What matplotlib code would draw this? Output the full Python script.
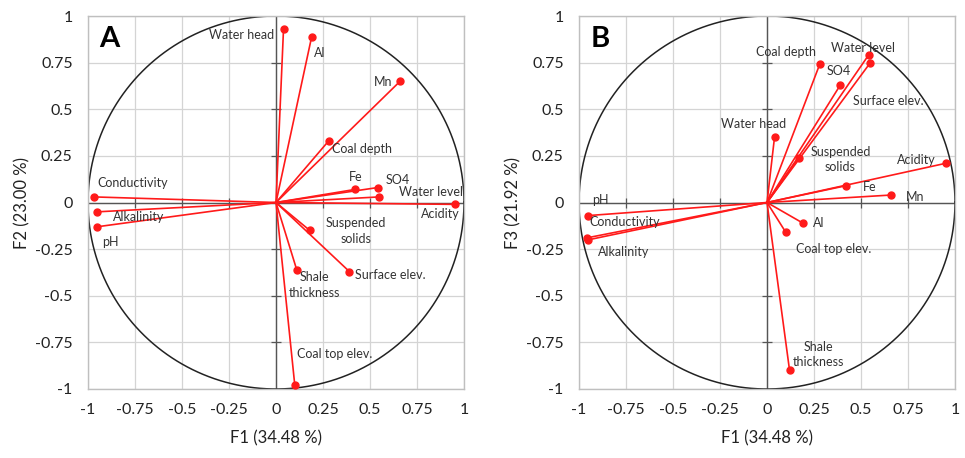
import numpy as np
import matplotlib
matplotlib.use("Agg")
import matplotlib.pyplot as plt

plt.rcParams['font.family'] = ['Lato', 'DejaVu Sans']

# ---- Data: panel A (F1 vs F2) ----
labels_a = ["Water head", "Al", "Mn", "Coal depth", "Fe", "SO4", "Water level", "Acidity",
            "Conductivity", "Alkalinity", "pH", "Suspended\nsolids", "Shale\nthickness",
            "Surface elev.", "Coal top elev."]
f1_a = [0.04, 0.19, 0.66, 0.28, 0.42, 0.54, 0.55, 0.95, -0.97, -0.95, -0.95, 0.18, 0.11, 0.39, 0.10]
f2_a = [0.93, 0.89, 0.65, 0.33, 0.07, 0.08, 0.03, -0.01, 0.03, -0.05, -0.13, -0.15, -0.36, -0.37, -0.98]

# ---- Data: panel B (F1 vs F3) ----
labels_b = ["Coal depth", "Water level", "Surface elev.", "SO4", "Water head", "Suspended\nsolids",
            "Acidity", "Fe", "Mn", "pH", "Conductivity", "Alkalinity", "Al", "Coal top elev.",
            "Shale\nthickness"]
f1_b = [0.28, 0.54, 0.55, 0.39, 0.04, 0.17, 0.95, 0.42, 0.66, -0.95, -0.96, -0.95, 0.19, 0.10, 0.12]
f3_b = [0.74, 0.79, 0.75, 0.63, 0.35, 0.24, 0.21, 0.09, 0.04, -0.07, -0.19, -0.20, -0.11, -0.16, -0.90]

ticks = [-1, -0.75, -0.5, -0.25, 0, 0.25, 0.5, 0.75, 1]
tick_labels = ["-1", "-0.75", "-0.5", "-0.25", "0", "0.25", "0.5", "0.75", "1"]

# label placement (text anchor in data coords, alignment)
pos_a = {
    "Water head": (-0.01, 0.90, 'right'),
    "Al": (0.234, 0.80, 'center'),
    "Mn": (0.62, 0.648, 'right'),
    "Coal depth": (0.30, 0.287, 'left'),
    "Fe": (0.424, 0.138, 'center'),
    "SO4": (0.65, 0.12, 'center'),
    "Water level": (0.995, 0.055, 'right'),
    "Acidity": (0.872, -0.062, 'center'),
    "Conductivity": (-0.95, 0.106, 'left'),
    "Alkalinity": (-0.732, -0.076, 'center'),
    "pH": (-0.883, -0.21, 'center'),
    "Suspended\nsolids": (0.426, -0.153, 'center'),
    "Shale\nthickness": (0.207, -0.442, 'center'),
    "Surface elev.": (0.42, -0.387, 'left'),
    "Coal top elev.": (0.11, -0.814, 'left'),
}
pos_b = {
    "Coal depth": (0.101, 0.809, 'center'),
    "Water level": (0.512, 0.83, 'center'),
    "SO4": (0.383, 0.705, 'center'),
    "Surface elev.": (0.645, 0.546, 'center'),
    "Water head": (-0.073, 0.42, 'center'),
    "Suspended\nsolids": (0.39, 0.231, 'center'),
    "Acidity": (0.796, 0.228, 'center'),
    "Fe": (0.544, 0.085, 'center'),
    "Mn": (0.787, 0.031, 'center'),
    "pH": (-0.888, 0.013, 'center'),
    "Conductivity": (-0.755, -0.103, 'center'),
    "Alkalinity": (-0.764, -0.267, 'center'),
    "Al": (0.273, -0.108, 'center'),
    "Coal top elev.": (0.353, -0.251, 'center'),
    "Shale\nthickness": (0.273, -0.816, 'center'),
}

fig = plt.figure(figsize=(9.65, 4.58), dpi=100)
ax_a = fig.add_axes([88/965, 1-389/458, 376/965, 373/458])
ax_b = fig.add_axes([579/965, 1-389/458, 376/965, 373/458])


def draw(ax, xs, ys, labels, pos, letter, ylabel):
    ax.set_xlim(-1, 1)
    ax.set_ylim(-1, 1)
    ax.set_xticks(ticks)
    ax.set_yticks(ticks)
    ax.set_xticklabels(tick_labels)
    ax.set_yticklabels(tick_labels)
    ax.tick_params(length=0, labelsize=11.5, colors='#222222')
    ax.tick_params(axis='x', pad=10)
    ax.tick_params(axis='y', pad=11)
    ax.grid(True, color='#d4d4d4', lw=0.9)
    ax.set_axisbelow(True)
    for s in ax.spines.values():
        s.set_color('#bfbfbf')
        s.set_linewidth(1.0)
    ax.axhline(0, color='#555555', lw=1.0, zorder=1)
    ax.axvline(0, color='#555555', lw=1.0, zorder=1)
    tk = [t for t in ticks if t not in (-1, 0, 1)]
    ax.plot([0]*len(tk), tk, ls='none', marker='_', ms=7, color='#555555', mew=0.9, zorder=1)
    ax.plot(tk, [0]*len(tk), ls='none', marker='|', ms=7, color='#555555', mew=0.9, zorder=1)
    th = np.linspace(0, 2*np.pi, 400)
    ax.plot(np.cos(th), np.sin(th), color='#222222', lw=1.1, zorder=2)
    for x, y in zip(xs, ys):
        ax.plot([0, x], [0, y], color='#ff1a1a', lw=1.2, zorder=3)
    ax.plot(xs, ys, ls='none', marker='o', ms=5, color='#ff1a1a', zorder=4)
    for lab in labels:
        tx, ty, ha = pos[lab]
        ax.text(tx, ty, lab, ha=ha, va='center', fontsize=9, color='#333333',
                linespacing=1.35, zorder=5)
    ax.text(-0.94, 0.875, letter, fontsize=21, fontweight='bold', color='black',
            ha='left', va='center', zorder=5)
    ax.set_xlabel("F1 (34.48 %)", fontsize=12, labelpad=10, color='#222222')
    ax.set_ylabel(ylabel, fontsize=12, labelpad=3, color='#222222')


draw(ax_a, f1_a, f2_a, labels_a, pos_a, "A", "F2 (23.00 %)")
draw(ax_b, f1_b, f3_b, labels_b, pos_b, "B", "F3 (21.92 %)")

fig.savefig("out.png", dpi=100)
